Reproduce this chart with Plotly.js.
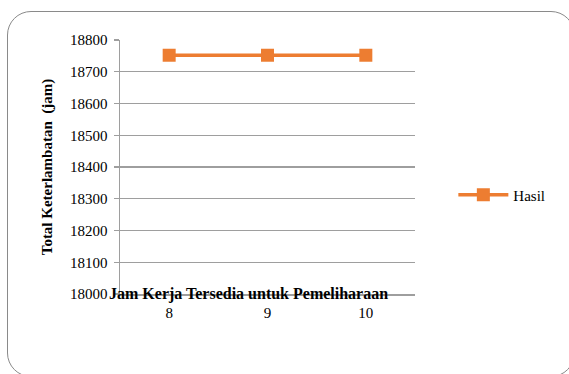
<!DOCTYPE html>
<html>
<head>
<meta charset="utf-8">
<script src="https://cdn.plot.ly/plotly-3.0.1.min.js"></script>
<style>
  html, body { margin: 0; padding: 0; background: #ffffff; }
  #wrap { position: relative; width: 569px; height: 374px; overflow: hidden; }
  #chart { width: 569px; height: 374px; }
  #frame { position: absolute; left: 7px; top: 11px; width: 568px; height: 366px;
           border: 1.5px solid #8a8a8a; border-radius: 24px; pointer-events: none; box-sizing: border-box; }
</style>
</head>
<body>
<div id="wrap">
  <div id="chart"></div>
  <div id="frame"></div>
</div>
<script>
const categories = ["8", "9", "10"];
const hasil = [18752, 18752, 18752];
const seriesName = "Hasil";
const yTicks = [18000, 18100, 18200, 18300, 18400, 18500, 18600, 18700, 18800];
const xTitle = "Jam Kerja Tersedia untuk Pemeliharaan";
const yTitle = "Total Keterlambatan  (jam)";

const xIdx = categories.map((c, i) => i);
const serif = "Times New Roman, Liberation Serif, Tinos, DejaVu Serif, serif";
const orange = "#ED7D31";
const grid = "#9e9e9e";

const trace = {
  x: xIdx, y: hasil, name: seriesName, type: "scatter", mode: "lines+markers",
  line: { color: orange, width: 3.5 },
  marker: { symbol: "square", size: 13, color: orange }
};

const layout = {
  width: 569, height: 374,
  margin: { l: 120, r: 154, t: 40, b: 80 },
  paper_bgcolor: "rgba(0,0,0,0)", plot_bgcolor: "rgba(0,0,0,0)",
  font: { family: serif, size: 15, color: "#000" },
  xaxis: {
    range: [-0.5, 2.5], tickmode: "array", tickvals: xIdx, ticktext: categories,
    showgrid: false, zeroline: false, showline: true, linecolor: grid, linewidth: 1.5,
    ticks: "", ticklabelstandoff: 4, fixedrange: true,
    tickfont: { family: serif, size: 15, color: "#000" }
  },
  yaxis: {
    range: [18000, 18800], tickmode: "array", tickvals: yTicks, ticktext: yTicks.map(String),
    showgrid: true, gridcolor: grid, gridwidth: 1.2, zeroline: false,
    showline: true, linecolor: grid, linewidth: 1.5,
    ticks: "outside", ticklen: 5, tickcolor: grid, tickwidth: 1.2, ticklabelstandoff: 3,
    tickfont: { family: serif, size: 15, color: "#000" },
    title: { text: yTitle, font: { family: serif, size: 15, color: "#000", weight: "bold" }, standoff: 14 },
    fixedrange: true
  },
  showlegend: true,
  legend: {
    x: 1.13, xanchor: "left", y: 0.39, yanchor: "middle",
    font: { family: serif, size: 15, color: "#000" }, itemwidth: 50, bgcolor: "rgba(0,0,0,0)"
  },
  annotations: [{
    text: "<b>" + xTitle + "</b>", xref: "paper", yref: "paper", x: 0.434, y: 0,
    xanchor: "center", yanchor: "middle", showarrow: false,
    font: { family: serif, size: 16, color: "#000" }
  }]
};

Plotly.newPlot("chart", [trace], layout, { displayModeBar: false, staticPlot: true });
</script>
</body>
</html>
